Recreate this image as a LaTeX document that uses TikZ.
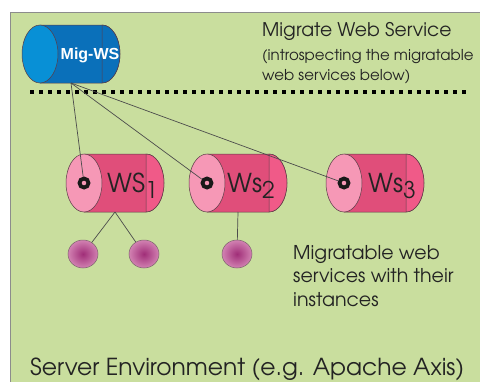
\documentclass[tikz,border=0pt]{standalone}
\usepackage{fontspec}
\setmainfont{texgyreadventor-regular.otf}
\newfontfamily\tagfont{Liberation Sans}
\usetikzlibrary{shapes.geometric, positioning}
\definecolor{envgreen}{RGB}{201,222,158}
\definecolor{envborder}{RGB}{140,140,140}
\definecolor{cylline}{RGB}{90,60,70}
\definecolor{wsbody}{RGB}{224,78,122}
\definecolor{wsband}{RGB}{240,90,136}
\definecolor{wsface}{RGB}{246,152,182}
\definecolor{migbody}{RGB}{10,112,186}
\definecolor{migface}{RGB}{8,144,214}
\definecolor{instdark}{RGB}{160,46,120}
\definecolor{instlight}{RGB}{210,130,178}
\definecolor{textdark}{RGB}{35,35,35}

% WS name with a large lowered index
\newcommand{\wsname}[2]{#1\raisebox{-6pt}{\fontsize{23}{23}\selectfont #2}}

\begin{document}
\begin{tikzpicture}[
    x=1pt, y=-1pt,
    pics/cyl/.style n args={3}{code={
        \draw[draw=cylline, line width=0.5pt, fill=#1] (0,-29) -- (62,-29)
            arc[start angle=-90, end angle=90, x radius=18, y radius=29] -- (0,29) -- cycle;
        \draw[draw=cylline, line width=0.5pt, fill=#2] (62,-29)
            arc[start angle=-90, end angle=90, x radius=18, y radius=29] -- cycle;
        \draw[draw=cylline, line width=0.5pt, fill=#3] (0,0) ellipse[x radius=18, y radius=29];
        \coordinate (-bot) at (31,29);
    }},
    ring/.style={circle, draw=black!90, line width=3.8pt, fill=wsface, minimum size=9pt, inner sep=0pt},
    inst/.style={ellipse, draw=cylline!80, line width=0.5pt, inner color=instdark, outer color=instlight,
                 minimum width=30pt, minimum height=28pt, inner sep=0pt},
    wslabel/.style={font=\fontsize{26}{26}\selectfont, text=textdark, inner sep=0pt},
    note/.style={text=textdark, inner sep=0pt, align=left},
    link/.style={draw=black!70, line width=0.7pt},
]
    \useasboundingbox (0,0) rectangle (480,381);
    \clip (0,0) rectangle (480,381);

    % server environment
    \draw[fill=envgreen, draw=envborder, line width=1pt] (10,12) rectangle (495,395);

    % migrate web service
    \pic (mig) at (40,54) {cyl={migbody}{migbody}{migface}};
    \node[font=\tagfont\bfseries\fontsize{16}{16}\selectfont, text=white, inner sep=0pt] (migtag) at (90,55) {Mig-WS};

    \node[note, anchor=base west, font=\fontsize{18.8}{18.8}\selectfont] (migtitle) at (262,36) {Migrate Web Service};
    \node[note, anchor=base west, font=\fontsize{15}{19.5}\selectfont] (mignote) at (262,80)
        {(introspecting the migratable\\web services below)};

    \draw[black, line width=4pt, dash pattern=on 4pt off 5pt] (30,92) -- (468,92);

    % migratable web services
    \pic (ws1) at (84,183) {cyl={wsbody}{wsband}{wsface}};
    \pic (ws2) at (207,183) {cyl={wsbody}{wsband}{wsface}};
    \pic (ws3) at (344,183) {cyl={wsbody}{wsband}{wsface}};
    \node[ring] (ring1) at (84,183) {};
    \node[ring] (ring2) at (207,183) {};
    \node[ring] (ring3) at (344,183) {};
    \node[wslabel, anchor=base west] (lbl1) at (107,192) {\wsname{WS}{1}};
    \node[wslabel, anchor=base west] (lbl2) at (227,192) {\wsname{Ws}{2}};
    \node[wslabel, anchor=base west] (lbl3) at (368,192) {\wsname{Ws}{3}};

    % instances
    \node[inst] (i11) at (83,254) {};
    \node[inst] (i12) at (144,254) {};
    \node[inst] (i21) at (237,254) {};

    \node[note, anchor=base west, font=\fontsize{19}{23.5}\selectfont] (wsnote) at (293,306)
        {Migratable web\\services with their\\instances};

    \node[note, anchor=base west, font=\fontsize{23.4}{23.4}\selectfont] (envtitle) at (30,375)
        {Server Environment (e.g. Apache Axis)};

    % links
    \draw[link] (mig-bot) -- (ring1);
    \draw[link] (mig-bot) -- (ring2);
    \draw[link] (mig-bot) -- (ring3);
    \draw[link] (ws1-bot) -- (i11);
    \draw[link] (ws1-bot) -- (i12);
    \draw[link] (ws2-bot) -- (i21);
\end{tikzpicture}
\end{document}
